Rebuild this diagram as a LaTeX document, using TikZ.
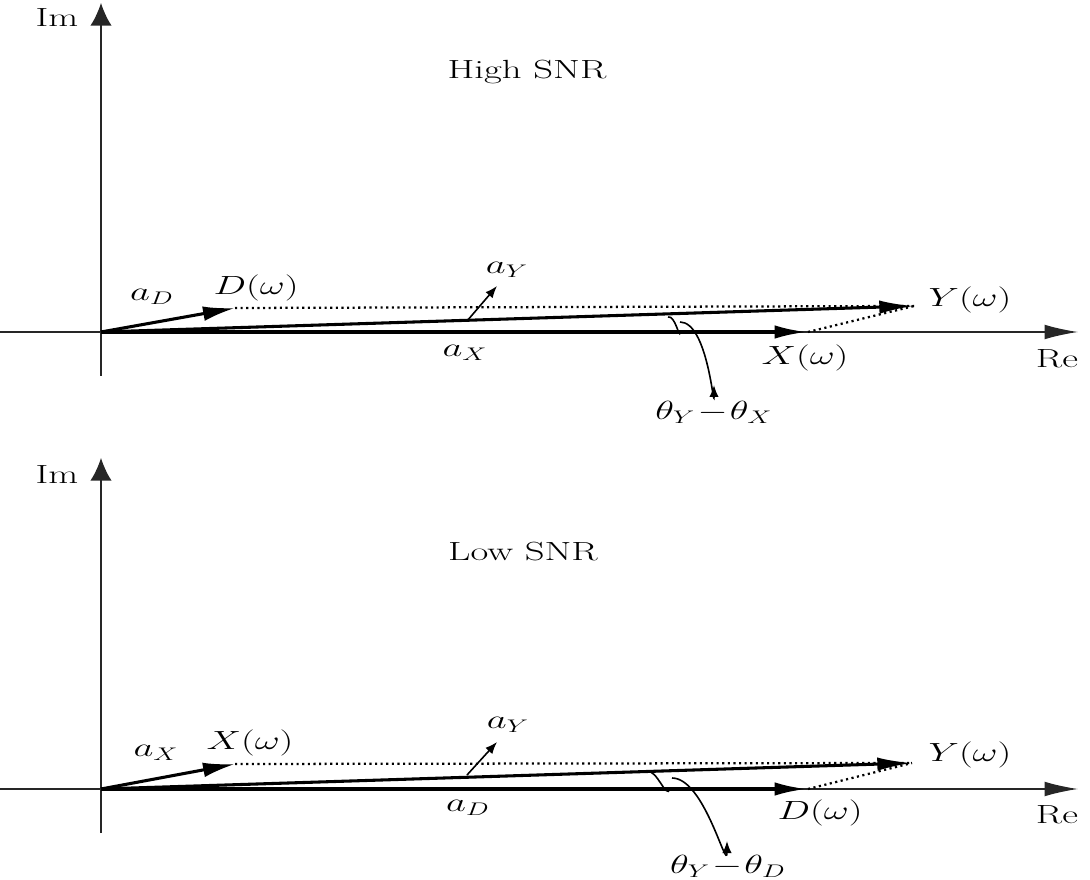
\documentclass[tikz,border=0pt]{standalone}
\usetikzlibrary{arrows.meta}
\newcommand\widetxt[1]{\scalebox{1.68}[1.14]{#1}}
\begin{document}
\begin{tikzpicture}[x=0.75pt,y=-0.75pt,
  lbl/.style={inner sep=0pt, font=\fontsize{17.28}{21}\selectfont},
  axisx/.style={line width=1.1pt, draw=black!85, -{Latex[length=25pt,width=11pt]}},
  axisy/.style={line width=1.1pt, draw=black!85, -{Latex[length=17pt,width=16pt]}},
  vecx/.style={line width=3pt, -{Latex[length=25pt,width=10pt]}},
  vecy/.style={line width=2.3pt, -{Latex[length=26pt,width=10pt]}},
  vecd/.style={line width=2.3pt, -{Latex[length=24pt,width=11pt]}},
  dots/.style={line width=1.7pt, dash pattern=on 1.6pt off 2.6pt},
  small/.style={line width=1.2pt, -{Latex[length=9pt,width=7pt]}},
  angarc/.style={line width=1.2pt},
]
\useasboundingbox (0,0) rectangle (1090,880);

% ===== Top panel: High SNR =====
\coordinate (O1) at (101,332);
\coordinate (re1s) at (0,332);
\coordinate (re1e) at (1078,332);
\coordinate (im1s) at (101,376);
\coordinate (im1e) at (101,3);
\coordinate (D1) at (235,308);
\coordinate (X1) at (808,332);
\coordinate (Y1) at (914,306);
\coordinate (ay1s) at (467,321);
\coordinate (ay1e) at (497,286);
\coordinate (arc1s) at (668,317);
\coordinate (arc1e) at (680,332);
\coordinate (th1s) at (680,322);
\coordinate (th1e) at (714,385);

\draw[axisx] (re1s) -- (re1e);
\draw[axisy] (im1s) -- (im1e);
\node[lbl] (im1) at (57,18) {\widetxt{Im}};
\node[lbl] (re1) at (1057,359) {\widetxt{Re}};
\node[lbl] (title1) at (527,72) {\widetxt{High SNR}};

\draw[dots] (D1) -- (Y1);
\draw[dots] (X1) -- (Y1);
\draw[vecx] (O1) -- (X1);
\draw[vecy] (O1) -- (Y1);
\draw[vecd] (O1) -- (D1);
\draw[small] (ay1s) -- (ay1e);
\draw[angarc] (arc1s) to[out=15,in=-95] (arc1e);
\draw[small] (th1s) to[out=0,in=-90] (th1e);

\node[lbl] (aD1) at (152,297) {\widetxt{$a_D$}};
\node[lbl] (Dw1) at (256,288) {\widetxt{$D(\omega)$}};
\node[lbl] (aY1) at (507,270) {\widetxt{$a_Y$}};
\node[lbl] (Yw1) at (970,300) {\widetxt{$Y(\omega)$}};
\node[lbl] (aX1) at (465,353) {\widetxt{$a_X$}};
\node[lbl] (Xw1) at (805,358) {\widetxt{$X(\omega)$}};
\node[lbl] (th1) at (714,412) {\widetxt{$\theta_Y\!-\!\theta_X$}};

% ===== Bottom panel: Low SNR =====
\coordinate (O2) at (101,789);
\coordinate (re2s) at (0,789);
\coordinate (re2e) at (1078,789);
\coordinate (im2s) at (101,833);
\coordinate (im2e) at (101,458);
\coordinate (X2) at (235,764);
\coordinate (D2) at (808,789);
\coordinate (Y2) at (912,763);
\coordinate (ay2s) at (467,775);
\coordinate (ay2e) at (497,742);
\coordinate (arc2s) at (646,771);
\coordinate (arc2e) at (670,789);
\coordinate (th2s) at (672,778);
\coordinate (th2e) at (727,841);

\draw[axisx] (re2s) -- (re2e);
\draw[axisy] (im2s) -- (im2e);
\node[lbl] (im2) at (57,475) {\widetxt{Im}};
\node[lbl] (re2) at (1057,815) {\widetxt{Re}};
\node[lbl] (title2) at (523,552) {\widetxt{Low SNR}};

\draw[dots] (X2) -- (Y2);
\draw[dots] (D2) -- (Y2);
\draw[vecx] (O2) -- (D2);
\draw[vecy] (O2) -- (Y2);
\draw[vecd] (O2) -- (X2);
\draw[small] (ay2s) -- (ay2e);
\draw[angarc] (arc2s) to[out=10,in=-110] (arc2e);
\draw[small] (th2s) to[out=0,in=-90] (th2e);

\node[lbl] (aX2) at (156,753) {\widetxt{$a_X$}};
\node[lbl] (Xw2) at (250,743) {\widetxt{$X(\omega)$}};
\node[lbl] (aY2) at (508,725) {\widetxt{$a_Y$}};
\node[lbl] (Yw2) at (970,755) {\widetxt{$Y(\omega)$}};
\node[lbl] (aD2) at (468,808) {\widetxt{$a_D$}};
\node[lbl] (Dw2) at (820,813) {\widetxt{$D(\omega)$}};
\node[lbl] (th2) at (728,866) {\widetxt{$\theta_Y\!-\!\theta_D$}};
\end{tikzpicture}
\end{document}
